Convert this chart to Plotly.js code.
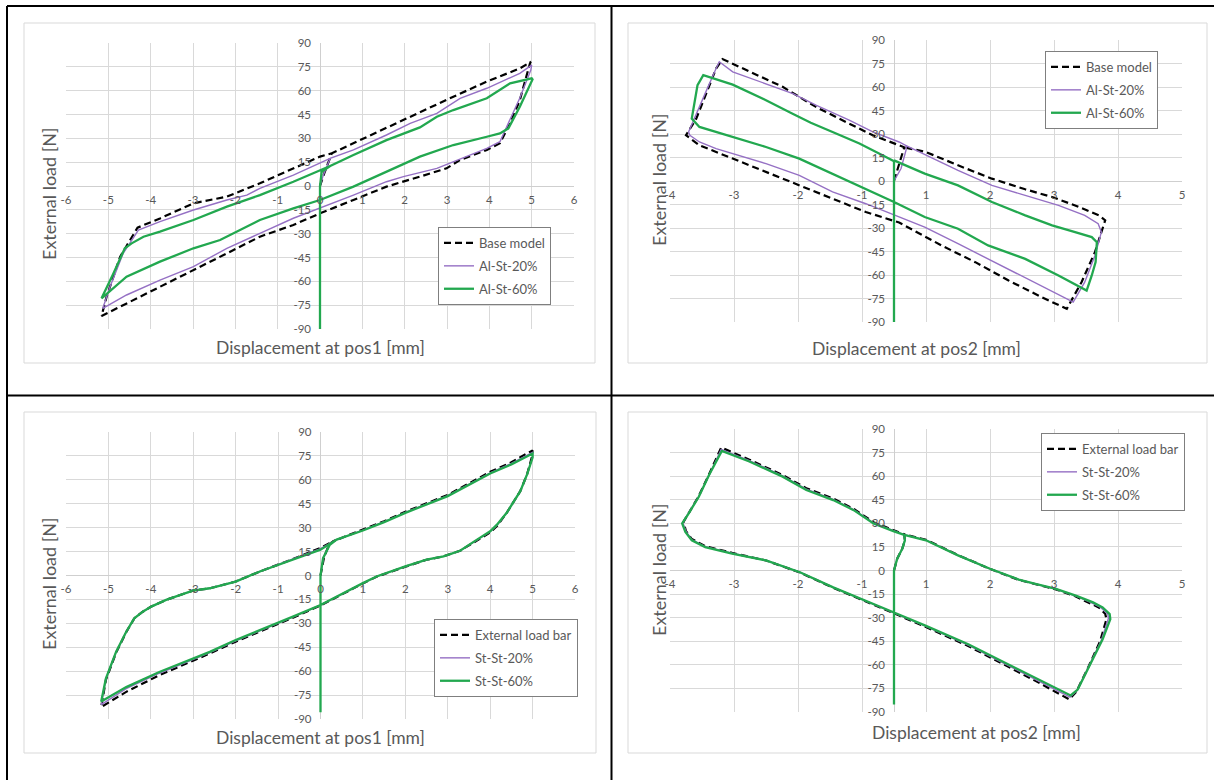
<!DOCTYPE html>
<html>
<head>
<meta charset="utf-8">
<script src="https://cdn.plot.ly/plotly-3.0.1.min.js"></script>
<style>
  html, body { margin: 0; padding: 0; background: #ffffff; }
  #chart { width: 1214px; height: 780px; }
</style>
</head>
<body>
<div id="chart"></div>
<script>
// ---------------- DATA ----------------
// Tick labels
const yTickLabels = [-90, -75, -60, -45, -30, -15, 0, 15, 30, 45, 60, 75, 90];
const xTicksPos1 = [-6, -5, -4, -3, -2, -1, 0, 1, 2, 3, 4, 5, 6];
const xTickTextPos2 = ['-4', '-3', '-2', '-1', '1', '2', '3', '4', '5'];

// Legend names
const namesAl = ['Base model', 'Al-St-20%', 'Al-St-60%'];
const namesSt = ['External load bar', 'St-St-20%', 'St-St-60%'];

// Chart 1: Al-St, displacement at pos1
const c1BaseX = [0, 0.1, 0.28, 0.79, 1.57, 2.36, 3.15, 3.94, 4.72, 4.98, 4.96, 4.72, 4.49, 4.25, 3.94, 3.31, 2.99, 2.36, 1.57, 0.79, 0, -0.63, -1.42, -2.2, -2.99, -3.78, -4.57, -5.16, -5.04, -4.72, -4.31, -3.78, -2.99, -2.2, -1.42, -0.63, 0, 0.28];
const c1BaseY = [0, 8, 20.6, 26.9, 36.9, 46.8, 56.2, 65.7, 74, 78.2, 77.2, 54, 39.4, 26.9, 22.7, 16.4, 11.1, 5.9, -0.4, -8.8, -17.2, -24.5, -31.9, -42.4, -52.9, -63.4, -73.8, -81.8, -69.6, -44.5, -26.2, -20.4, -10.9, -6.7, 1.7, 11, 18.5, 20.6];
const c1P20X = [0, 0.08, 0.24, 0.79, 1.57, 2.13, 2.76, 3.31, 3.94, 4.72, 5.0, 4.98, 4.72, 4.49, 4.25, 3.94, 3.23, 2.76, 1.97, 1.57, 0.79, 0, -0.63, -1.42, -2.2, -2.99, -3.78, -4.57, -5.13, -4.96, -4.65, -4.29, -3.78, -2.99, -2.2, -1.73, -1.42, -0.63, 0, 0.24];
const c1P20Y = [0, 7, 17.4, 22.7, 32.1, 39.4, 45.7, 55.2, 61.5, 70.9, 76.1, 73, 55.4, 41.5, 27.9, 23.7, 15.9, 11.1, 5.9, 2.7, -5.7, -14.1, -20.3, -29.8, -39.2, -50.8, -59.2, -68.6, -77, -63.4, -42.4, -27.7, -22.4, -15.1, -8.8, -5.7, -1.5, 6.9, 14.3, 17.4];
const c1P60X = [0, 0, 0.04, 0.24, 0.79, 1.57, 2.36, 2.76, 3.15, 3.94, 4.49, 5.0, 5.02, 4.72, 4.45, 4.25, 3.94, 3.15, 2.36, 1.57, 0.79, 0, -0.63, -1.42, -2.36, -2.99, -3.78, -4.57, -5.16, -4.88, -4.61, -4.45, -4.17, -3.78, -2.99, -2.2, -1.42, -0.63, 0, 0.24];
const c1P60Y = [-90, 0, 9, 12.6, 19.5, 28.9, 36.9, 43.6, 47.8, 55.2, 64.6, 67.8, 67.1, 49.9, 36.3, 33.1, 31, 25.8, 18.5, 9, -0.4, -8.8, -14.1, -21.4, -34, -39.2, -47.6, -57.1, -70.7, -55, -39.2, -36.1, -31.9, -28.7, -21.4, -13, -5.7, 2.7, 10.1, 12.6];

// Chart 2: Al-St, displacement at pos2
const c2BaseX = [0, 0.08, 0.16, 0.08, -0.33, -0.7, -1.22, -1.74, -2.26, -2.68, -2.78, -2.94, -3.09, -3.25, -3.04, -2.52, -2, -1.48, -0.96, -0.44, 0.08, 0.74, 1.27, 1.79, 2.31, 2.7, 2.93, 3.14, 3.3, 3.2, 2.83, 2.47, 2.05, 1.53, 1.0, 0.5, 0.16];
const c2BaseY = [0, 10, 21.5, 22.8, 29.2, 36.6, 47.3, 60.1, 69.7, 77.8, 71.8, 54.8, 39.8, 29.2, 22.8, 14.3, 5.8, -2.8, -11.3, -19.8, -26.5, -41.1, -51.8, -63.5, -74.2, -81.6, -64.6, -45.4, -25.1, -21.9, -15.6, -10.2, -5.3, 1.5, 10, 18.5, 21.5];
const c2P20X = [0, 0.11, 0.19, 0.19, 0.08, -0.33, -0.7, -1.22, -1.58, -2, -2.52, -2.73, -2.78, -2.94, -3.09, -3.21, -3.19, -3.04, -2.78, -2.36, -2, -1.48, -0.96, -0.44, 0.08, 0.48, 1, 1.53, 2.05, 2.57, 2.8, 2.98, 3.14, 3.24, 3.19, 2.98, 2.57, 2.05, 1.53, 1, 0.5, 0.19];
const c2P20Y = [0, 8, 20, 22.6, 24.9, 31.3, 38.8, 48.4, 55.8, 62.2, 69.7, 76.1, 71.8, 56.9, 42, 31.3, 29.2, 24.9, 20.7, 15.3, 11.1, 3.6, -7, -14.5, -23, -29.4, -40, -50.9, -61.8, -72.4, -77.3, -64.6, -47.5, -32.6, -27.3, -21.9, -15.6, -9.2, -2.8, 6.8, 16.4, 22.6];
const c2P60X = [0, 0, -0.18, -0.54, -0.96, -1.3, -1.6, -2, -2.52, -2.98, -3.07, -3.12, -3.16, -3.04, -2.52, -2, -1.48, -0.96, -0.44, 0, 0.48, 1, 1.47, 2.05, 2.57, 3.01, 3.09, 3.15, 3.17, 3.09, 2.83, 2.47, 2.05, 1.53, 1, 0.48, 0];
const c2P60Y = [-90, 12.6, 16.4, 23.9, 31.3, 37.2, 43.2, 51.6, 61.5, 67.5, 61.2, 50.5, 39.8, 34.5, 28.1, 21.7, 14.3, 4.7, -4.9, -13.4, -23, -30.5, -41.1, -49.7, -60.3, -69.9, -60.3, -51.8, -39, -35.8, -32.6, -28.3, -21.9, -13.4, -2.8, 4.7, 13.2];

// Chart 3: St-St, displacement at pos1
const c3BaseX = [0, 0.08, 0.2, 0.3, 1, 1.5, 2, 3, 4, 4.5, 5, 4.98, 4.87, 4.71, 4.39, 4.16, 4, 3.69, 3.29, 2.9, 2.5, 2, 1.32, 1, 0.54, 0, -0.65, -1.43, -2, -2.61, -3.01, -3.8, -4.58, -5.17, -5.06, -4.82, -4.58, -4.39, -4.19, -3.99, -3.64, -3.01, -2.61, -2, -1.43, -0.65, 0, 0.3];
const c3BaseY = [0, 11, 19.5, 21.5, 28.8, 34, 40, 50.5, 65, 71, 78.5, 74, 63.4, 52.9, 39.3, 31, 27, 22, 15.5, 12, 9.9, 5.5, -0.8, -5, -11.5, -18.8, -26.5, -35, -41.5, -48.9, -53.5, -62.5, -73, -82.5, -65.5, -48.5, -35.5, -26.9, -22.7, -19.5, -15.3, -9.5, -8, -3.8, 2.5, 10.3, 17.3, 21.5];
const c3P20X = [0, 0.07, 0.21, 0.36, 1, 1.5, 2, 3, 4, 4.5, 5, 5, 4.87, 4.71, 4.39, 4.16, 4, 3.69, 3.29, 2.9, 2.5, 2, 1.32, 1, 0.54, 0, -0.65, -1.43, -2, -2.61, -3.01, -3.8, -4.58, -5.17, -5.06, -4.82, -4.58, -4.39, -4.19, -3.99, -3.64, -3.01, -2.61, -2, -1.43, -0.65, 0, 0.36];
const c3P20Y = [0, 11, 19.4, 22.2, 28.4, 33.7, 39.6, 50.1, 64.4, 70.3, 77.2, 74, 63.4, 52.9, 39.3, 31.5, 27.4, 22.3, 15.5, 12, 9.9, 5.6, -0.7, -4.9, -11.3, -18.6, -26.1, -34.6, -41, -48.4, -52.8, -61.3, -71, -81, -65, -48.2, -35.4, -26.9, -22.7, -19.5, -15.3, -9.5, -8, -3.8, 2.5, 10.1, 16.8, 22.2];
const c3P60X = [0, 0, 0.06, 0.22, 0.38, 1, 1.5, 2, 3, 4, 4.5, 5, 5, 4.87, 4.71, 4.39, 4.16, 4, 3.69, 3.29, 2.9, 2.5, 2, 1.32, 1, 0.54, 0, -0.65, -1.43, -2, -2.61, -3.01, -3.8, -4.58, -5.17, -5.06, -4.82, -4.58, -4.39, -4.19, -3.99, -3.64, -3.01, -2.61, -2, -1.43, -0.65, 0, 0.38];
const c3P60Y = [-85.7, 0, 10.9, 19.3, 22.5, 28.2, 33.5, 39.3, 49.8, 64, 69.7, 76.5, 74, 63.4, 52.9, 39.3, 31.9, 27.7, 22.5, 15.5, 12, 9.9, 5.7, -0.6, -4.8, -11.1, -18.5, -25.8, -34.2, -40.5, -47.9, -52.1, -60.5, -70, -79, -64.7, -47.9, -35.3, -26.9, -22.7, -19.5, -15.3, -9.5, -8, -3.8, 2.5, 9.9, 16.2, 22.5];

// Chart 4: St-St, displacement at pos2
const c4BaseX = [0, 0.05, 0.13, 0.17, 0.16, 0, -0.32, -0.63, -0.95, -1.37, -1.74, -2.26, -2.7, -2.88, -3.05, -3.2, -3.29, -3.25, -3.16, -2.95, -2.53, -2, -1.47, -0.95, -0.5, 0, 0.5, 1.16, 1.68, 2.21, 2.74, 2.85, 3.03, 3.22, 3.32, 3.3, 3.2, 3.05, 2.84, 2.53, 2.21, 1.95, 1.5, 1, 0.5, 0.16];
const c4BaseY = [0, 7.5, 13.9, 19.2, 23, 25.6, 30.7, 39.2, 45.8, 52.3, 60.7, 70.5, 78.2, 62, 47.5, 37, 30.9, 25, 20, 15.5, 11.2, 6.4, -1.3, -11, -18.5, -27.2, -36, -48, -59, -70.2, -82, -77, -62, -45, -31, -27.5, -23.5, -20.5, -16.5, -12, -8.8, -6, 1, 9.8, 19.5, 23];
const c4P20X = [0, 0.05, 0.13, 0.17, 0.16, 0, -0.32, -0.63, -0.95, -1.37, -1.74, -2.26, -2.7, -2.88, -3.05, -3.21, -3.3, -3.25, -3.16, -2.95, -2.53, -2, -1.47, -0.95, -0.5, 0, 0.5, 1.16, 1.68, 2.21, 2.75, 2.86, 3.04, 3.24, 3.35, 3.34, 3.23, 3.08, 2.84, 2.53, 2.21, 1.95, 1.5, 1, 0.5, 0.16];
const c4P20Y = [0, 7.5, 13.9, 19.2, 22.8, 25.2, 30.3, 38.8, 45.3, 51.8, 60.2, 69.9, 77, 61.4, 47.2, 36.6, 30.5, 24.8, 19.6, 15.2, 11, 6.4, -1.2, -10.8, -18.3, -27, -35.6, -47.4, -58.3, -69.2, -80.5, -76.4, -61.4, -44.4, -30.5, -27.6, -23.5, -20.4, -16.2, -11.8, -8.6, -5.9, 1, 9.7, 19.3, 22.8];
const c4P60X = [0, 0, 0.05, 0.13, 0.17, 0.16, 0, -0.32, -0.63, -0.95, -1.37, -1.74, -2.26, -2.69, -2.89, -3.05, -3.21, -3.31, -3.26, -3.16, -2.95, -2.53, -2, -1.47, -0.95, -0.5, 0, 0.5, 1.16, 1.68, 2.21, 2.76, 2.87, 3.05, 3.26, 3.38, 3.37, 3.26, 3.11, 2.84, 2.53, 2.21, 1.95, 1.5, 1, 0.5, 0.16];
const c4P60Y = [-85.3, 0, 7.5, 13.9, 19.2, 22.6, 24.9, 29.9, 38.4, 44.8, 51.2, 59.7, 69.3, 76.1, 60.8, 46.9, 36.2, 29.9, 24.5, 19.2, 14.9, 10.7, 6.4, -1.1, -10.7, -18.1, -26.7, -35.2, -46.9, -57.6, -68.2, -79.5, -75.7, -60.8, -43.7, -30.9, -27.7, -23.5, -20.3, -16, -11.7, -8.5, -5.8, 1.1, 9.6, 19.2, 22.6];

// ---------------- LAYOUT HELPERS ----------------
const W = 1214, H = 780;
const fx = p => p / W;
const fy = p => 1 - p / H;
const FONT = 'Lato, "Open Sans", sans-serif';
const TXT = '#595959';
const GRID = '#d9d9d9';

const styles = [
  { color: '#000000', width: 2.2, dash: '7px,4px' },
  { color: '#9570c4', width: 1.4 },
  { color: '#22a84f', width: 2.3 }
];

// plot-area pixel boxes
const panels = [
  { x0: 66, x1: 574, y0: 43, y1: 329, xr: [-6, 6], tv: xTicksPos1, tt: xTicksPos1.map(String) },
  { x0: 670, x1: 1182, y0: 40, y1: 322, xr: [-3.5, 4.5], tv: xTickTextPos2.map((t, i) => i - 3.5), tt: xTickTextPos2 },
  { x0: 66, x1: 575, y0: 432, y1: 719, xr: [-6, 6], tv: xTicksPos1, tt: xTicksPos1.map(String) },
  { x0: 670, x1: 1182, y0: 429, y1: 712, xr: [-3.5, 4.5], tv: xTickTextPos2.map((t, i) => i - 3.5), tt: xTickTextPos2 }
];

const series = [
  [[c1BaseX, c1BaseY], [c1P20X, c1P20Y], [c1P60X, c1P60Y]],
  [[c2BaseX, c2BaseY], [c2P20X, c2P20Y], [c2P60X, c2P60Y]],
  [[c3BaseX, c3BaseY], [c3P20X, c3P20Y], [c3P60X, c3P60Y]],
  [[c4BaseX, c4BaseY], [c4P20X, c4P20Y], [c4P60X, c4P60Y]]
];
const seriesNames = [namesAl, namesAl, namesSt, namesSt];
const legendBoxes = [
  { x: 438, y: 227 },
  { x: 1045, y: 51 },
  { x: 434, y: 619 },
  { x: 1041, y: 433 }
];

const traces = [];
const layout = {
  width: W, height: H,
  margin: { l: 0, r: 0, t: 0, b: 0 },
  paper_bgcolor: '#ffffff',
  plot_bgcolor: 'rgba(0,0,0,0)',
  font: { family: FONT, color: TXT },
  showlegend: true,
  shapes: [],
  annotations: []
};

panels.forEach((p, i) => {
  const k = i + 1;
  const xa = k === 1 ? 'xaxis' : 'xaxis' + k;
  const ya = k === 1 ? 'yaxis' : 'yaxis' + k;
  const xr = k === 1 ? 'x' : 'x' + k;
  const yr = k === 1 ? 'y' : 'y' + k;
  const lg = k === 1 ? 'legend' : 'legend' + k;
  const zeroPx = p.x0 + (0 - p.xr[0]) / (p.xr[1] - p.xr[0]) * (p.x1 - p.x0);
  layout[xa] = {
    domain: [fx(p.x0), fx(p.x1)],
    range: p.xr,
    anchor: 'free',
    position: fy((p.y0 + p.y1) / 2),
    tickmode: 'array', tickvals: p.tv, ticktext: p.tt,
    showgrid: true, gridcolor: GRID, gridwidth: 1,
    zeroline: true, zerolinecolor: '#cfcfcf', zerolinewidth: 1,
    showline: false, ticks: '', ticklabelstandoff: 5,
    tickfont: { family: FONT, size: 11.5, color: TXT },
    fixedrange: true
  };
  layout[ya] = {
    domain: [fy(p.y1), fy(p.y0)],
    range: [-90, 90],
    anchor: 'free',
    position: fx(zeroPx),
    side: 'left',
    tickmode: 'array', tickvals: yTickLabels, ticktext: yTickLabels.map(String),
    showgrid: true, gridcolor: GRID, gridwidth: 1,
    zeroline: true, zerolinecolor: '#cfcfcf', zerolinewidth: 1,
    showline: false, ticks: '', ticklabelstandoff: 9,
    tickfont: { family: FONT, size: 11.5, color: TXT },
    fixedrange: true
  };
  layout[lg] = {
    x: fx(legendBoxes[i].x), y: fy(legendBoxes[i].y),
    xanchor: 'left', yanchor: 'top',
    bgcolor: '#ffffff', bordercolor: '#7f7f7f', borderwidth: 1,
    font: { family: FONT, size: 13, color: TXT },
    itemwidth: 30, traceorder: 'grouped', tracegroupgap: 3
  };
  series[i].forEach((s, j) => {
    traces.push({
      type: 'scatter', mode: 'lines',
      x: s[0], y: s[1],
      name: seriesNames[i][j],
      legendgroup: 'g' + k + '_' + j,
      xaxis: xr, yaxis: yr, legend: lg,
      line: Object.assign({}, styles[j]),
      hoverinfo: 'skip'
    });
  });
});

// Chart-area boxes (light gray)
[[24, 23, 595, 363], [628, 23, 1207, 363], [24, 412, 596, 753], [628, 412, 1207, 753]].forEach(b => {
  layout.shapes.push({
    type: 'rect', xref: 'paper', yref: 'paper', layer: 'below',
    x0: fx(b[0]), x1: fx(b[2]), y0: fy(b[3]), y1: fy(b[1]),
    line: { color: '#d9d9d9', width: 1 }, fillcolor: 'rgba(0,0,0,0)'
  });
});

// Table borders (black)
const tableLines = [
  [7, 6, W, 6], [7, 6, 7, H], [611.5, 6, 611.5, H], [7, 395.5, W, 395.5]
];
tableLines.forEach(l => {
  layout.shapes.push({
    type: 'line', xref: 'paper', yref: 'paper', layer: 'above',
    x0: fx(l[0]), y0: fy(l[1]), x1: fx(l[2]), y1: fy(l[3]),
    line: { color: '#000000', width: 2 }
  });
});

// Axis titles
const xTitles = [
  { t: 'Displacement at pos1 [mm]', x: 320, y: 347 },
  { t: 'Displacement at pos2 [mm]', x: 916, y: 348 },
  { t: 'Displacement at pos1 [mm]', x: 320, y: 737 },
  { t: 'Displacement at pos2 [mm]', x: 976, y: 732 }
];
const yTitles = [
  { t: 'External load [N]', x: 49, y: 193 },
  { t: 'External load [N]', x: 659, y: 180 },
  { t: 'External load [N]', x: 49, y: 583 },
  { t: 'External load [N]', x: 659, y: 570 }
];
xTitles.forEach(a => layout.annotations.push({
  text: a.t, xref: 'paper', yref: 'paper', x: fx(a.x), y: fy(a.y),
  xanchor: 'center', yanchor: 'middle', showarrow: false,
  font: { family: FONT, size: 17.5, color: TXT }
}));
yTitles.forEach(a => layout.annotations.push({
  text: a.t, xref: 'paper', yref: 'paper', x: fx(a.x), y: fy(a.y),
  xanchor: 'center', yanchor: 'middle', showarrow: false, textangle: -90,
  font: { family: FONT, size: 18, color: TXT }
}));

Plotly.newPlot('chart', traces, layout, { staticPlot: true, displayModeBar: false });
</script>
</body>
</html>
